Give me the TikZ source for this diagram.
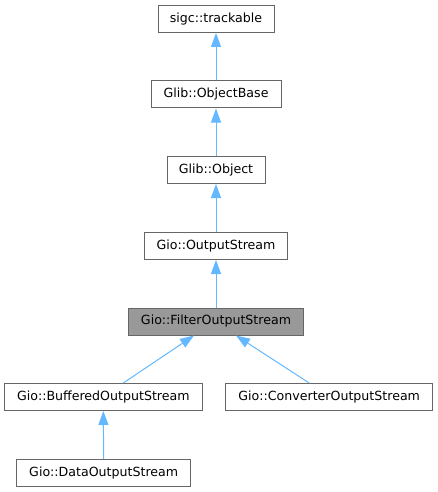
\documentclass[tikz,border=0pt]{standalone}
\usepackage{fontspec}
\setmainfont{DejaVu Sans}
\usetikzlibrary{arrows.meta}
\definecolor{edgeblue}{HTML}{63B8FF}
\definecolor{boxgray}{HTML}{666666}
\definecolor{hlfill}{HTML}{999999}
\tikzset{
  cls/.style={draw=boxgray, line width=1pt, fill=white, minimum height=27pt,
    inner sep=0pt, font=\fontsize{12.6}{14}\selectfont, text=black},
  hl/.style={cls, fill=hlfill},
  edge/.style={draw=edgeblue, line width=1pt,
    -{Triangle[length=14pt,width=10pt,fill=edgeblue]}}
}
\begin{document}
\begin{tikzpicture}[x=1pt,y=-1pt]
\useasboundingbox (0,0) rectangle (438,492);
\node[cls, minimum width=116pt] (trk) at (216,19) {sigc::trackable};
\node[cls, minimum width=130pt] (obb) at (216,94.5) {Glib::ObjectBase};
\node[cls, minimum width=98pt] (obj) at (216,170) {Glib::Object};
\node[cls, minimum width=143pt] (ous) at (216,246) {Gio::OutputStream};
\node[hl, minimum width=175pt] (fos) at (216,321.5) {Gio::FilterOutputStream};
\node[cls, minimum width=198pt] (bos) at (103.3,397) {Gio::BufferedOutputStream};
\node[cls, minimum width=207pt] (cos) at (329.2,397) {Gio::ConverterOutputStream};
\node[cls, minimum width=174pt] (dos) at (103.7,472.8) {Gio::DataOutputStream};
\draw[edge] (obb.north) -- (trk.south);
\draw[edge] (obj.north) -- (obb.south);
\draw[edge] (ous.north) -- (obj.south);
\draw[edge] (fos.north) -- (ous.south);
\draw[edge] ([xshift=20pt]bos.north) -- ([xshift=-22pt]fos.south);
\draw[edge] ([xshift=-20pt]cos.north) -- ([xshift=20pt]fos.south);
\draw[edge] (dos.north) -- (bos.south);
\end{tikzpicture}
\end{document}
